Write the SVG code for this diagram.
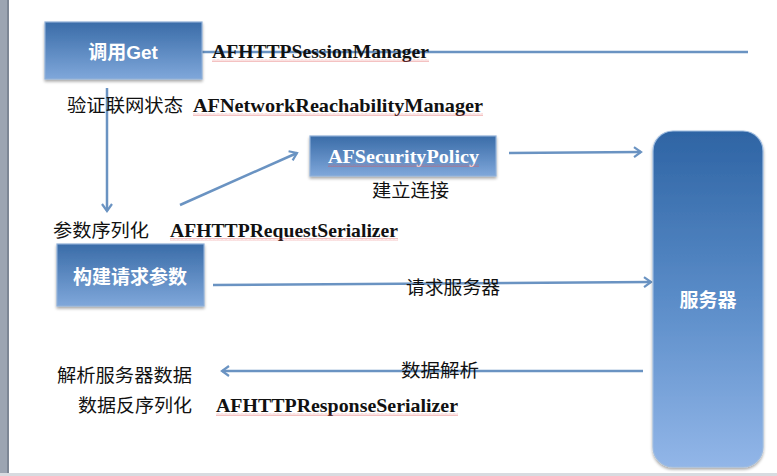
<svg xmlns="http://www.w3.org/2000/svg" width="777" height="476" viewBox="0 0 777 476">
<defs>
<linearGradient id="gBox" x1="0" y1="0" x2="0" y2="1">
<stop offset="0" stop-color="#3a6ca8"/>
<stop offset="1" stop-color="#7fa7da"/>
</linearGradient>
<linearGradient id="gSrv" x1="0" y1="0" x2="0" y2="1">
<stop offset="0" stop-color="#2e64a4"/>
<stop offset="0.5" stop-color="#5a8cc8"/>
<stop offset="1" stop-color="#92b6e8"/>
</linearGradient>
<filter id="sh" x="-10%" y="-10%" width="130%" height="140%">
<feGaussianBlur in="SourceAlpha" stdDeviation="1.5"/>
<feOffset dx="0" dy="2" result="b"/>
<feComponentTransfer><feFuncA type="linear" slope="0.35"/></feComponentTransfer>
<feMerge><feMergeNode/><feMergeNode in="SourceGraphic"/></feMerge>
</filter>
<pattern id="squig" width="4" height="3" patternUnits="userSpaceOnUse">
<path d="M0,2.5 L1,0.5 L2,2.5 L3,0.5 L4,2.5" fill="none" stroke="#e05050" stroke-width="0.5" stroke-opacity="0.7"/>
</pattern>
<marker id="ah" markerWidth="12" markerHeight="12" refX="9" refY="6" orient="auto" markerUnits="userSpaceOnUse">
<polyline points="2,1 9,6 2,11" fill="none" stroke="#6a93c2" stroke-width="2.2"/>
</marker>
<style>
.box{fill:url(#gBox);stroke:#8fb0d8;stroke-width:1.2;filter:url(#sh)}
.wt{fill:#ffffff;font-family:"Liberation Sans","Noto Sans CJK SC",sans-serif;font-weight:bold;font-size:19px}
.cn{fill:#111111;font-family:"Noto Sans CJK SC",sans-serif;font-size:18px}
.en{fill:#111111;font-family:"Liberation Serif","DejaVu Serif",serif;font-weight:bold;font-size:19px}
.ln{fill:none;stroke:#6a93c2;stroke-width:2.5}
.sq{fill:url(#squig)}
</style>
</defs>
<rect x="0" y="0" width="777" height="476" fill="#ffffff"/>
<rect x="0" y="0" width="9" height="476" fill="#9ca5b2"/>
<rect x="7" y="0" width="2" height="476" fill="#7d8795"/>
<rect x="0" y="473" width="777" height="3" fill="#d8dbe0"/>

<g id="connectors">
<line class="ln" x1="202" y1="52" x2="748" y2="52" stroke-width="3"/>
<line class="ln" x1="107" y1="88" x2="107" y2="211" marker-end="url(#ah)"/>
<line class="ln" x1="180" y1="205" x2="297" y2="153" marker-end="url(#ah)"/>
<line class="ln" x1="509" y1="153" x2="641" y2="152" marker-end="url(#ah)"/>
<line class="ln" x1="213" y1="285" x2="651" y2="282" marker-end="url(#ah)"/>
<line class="ln" x1="643" y1="371" x2="222" y2="371" marker-end="url(#ah)"/>
</g>

<g id="node-get">
<rect class="box" x="45" y="22" width="157" height="57"/>
<text class="wt" x="123" y="59" text-anchor="middle">调用Get</text>
</g>

<g id="node-security">
<rect class="box" x="310" y="136" width="186" height="40"/>
<text class="en" x="328" y="163" style="fill:#ffffff" textLength="151" lengthAdjust="spacingAndGlyphs">AFSecurityPolicy</text>
<rect class="sq" x="328" y="164" width="151" height="3"/>
</g>

<g id="node-build">
<rect class="box" x="57" y="244" width="147" height="62"/>
<text class="wt" x="130" y="284" text-anchor="middle">构建请求参数</text>
</g>

<g id="node-server">
<rect x="653" y="131" width="110" height="336" rx="20" ry="20" fill="url(#gSrv)" stroke="#9dbbe0" stroke-width="1.2" filter="url(#sh)"/>
<text class="wt" x="708" y="307" text-anchor="middle">服务器</text>
</g>

<g id="labels">
<text class="en" x="212" y="58" textLength="217" lengthAdjust="spacingAndGlyphs">AFHTTPSessionManager</text>
<rect class="sq" x="212" y="59" width="217" height="3"/>
<text class="cn" x="67" y="112" textLength="116" lengthAdjust="spacingAndGlyphs">验证联网状态</text>
<text class="en" x="193" y="112" textLength="290" lengthAdjust="spacingAndGlyphs">AFNetworkReachabilityManager</text>
<rect class="sq" x="193" y="113" width="290" height="3"/>
<text class="cn" x="372" y="197" textLength="77" lengthAdjust="spacingAndGlyphs">建立连接</text>
<text class="cn" x="53" y="237" textLength="96" lengthAdjust="spacingAndGlyphs">参数序列化</text>
<text class="en" x="170" y="237" textLength="228" lengthAdjust="spacingAndGlyphs">AFHTTPRequestSerializer</text>
<rect class="sq" x="170" y="238" width="228" height="3"/>
<text class="cn" x="406" y="294" textLength="94" lengthAdjust="spacingAndGlyphs">请求服务器</text>
<text class="cn" x="401" y="377" textLength="78" lengthAdjust="spacingAndGlyphs">数据解析</text>
<text class="cn" x="57" y="382" textLength="135" lengthAdjust="spacingAndGlyphs">解析服务器数据</text>
<text class="cn" x="78" y="412" textLength="114" lengthAdjust="spacingAndGlyphs">数据反序列化</text>
<text class="en" x="216" y="412" textLength="242" lengthAdjust="spacingAndGlyphs">AFHTTPResponseSerializer</text>
<rect class="sq" x="216" y="413" width="242" height="3"/>
</g>
</svg>
